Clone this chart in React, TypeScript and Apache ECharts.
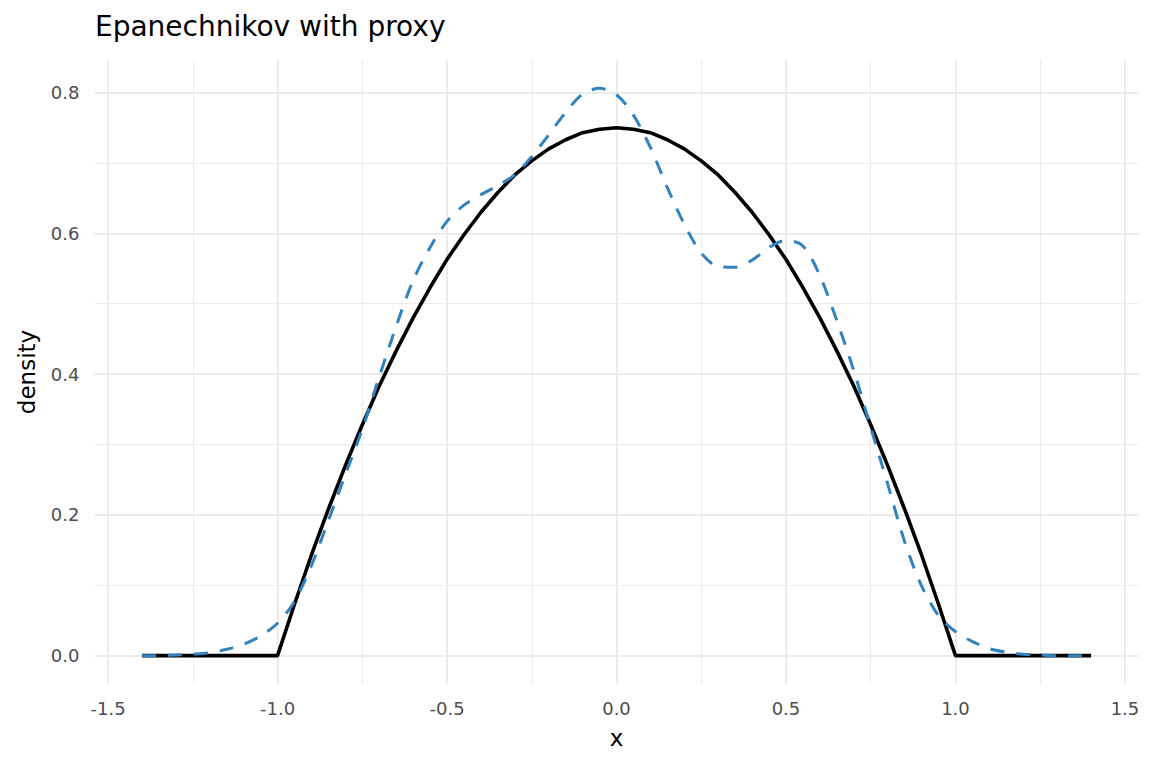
import React, { useEffect, useRef } from "react";
import * as echarts from "echarts";

const titleText = "Epanechnikov with proxy";
const xName = "x";
const yName = "density";

const xTicks = [-1.5, -1.0, -0.5, 0.0, 0.5, 1.0, 1.5];
const xMinor = [-1.25, -0.75, -0.25, 0.25, 0.75, 1.25];
const yTicks = [0.0, 0.2, 0.4, 0.6, 0.8];
const yMinor = [0.1, 0.3, 0.5, 0.7];

const xs = [
  -1.4, -1.35, -1.3, -1.25, -1.2, -1.15, -1.1, -1.05, -1.0, -0.95, -0.9, -0.85,
  -0.8, -0.75, -0.7, -0.65, -0.6, -0.55, -0.5, -0.45, -0.4, -0.35, -0.3, -0.25,
  -0.2, -0.15, -0.1, -0.05, 0.0, 0.05, 0.1, 0.15, 0.2, 0.25, 0.3, 0.35, 0.4,
  0.45, 0.5, 0.55, 0.6, 0.65, 0.7, 0.75, 0.8, 0.85, 0.9, 0.95, 1.0, 1.05, 1.1,
  1.15, 1.2, 1.25, 1.3, 1.35, 1.4,
];

const epanechnikov = [
  0, 0, 0, 0, 0, 0, 0, 0, 0,
  0.073, 0.143, 0.208, 0.27, 0.328, 0.383, 0.433, 0.48, 0.523, 0.563, 0.598,
  0.63, 0.658, 0.683, 0.703, 0.72, 0.733, 0.743, 0.748,
  0.75,
  0.748, 0.743, 0.733, 0.72, 0.703, 0.683, 0.658, 0.63, 0.598, 0.563, 0.523,
  0.48, 0.433, 0.383, 0.328, 0.27, 0.208, 0.143, 0.073,
  0, 0, 0, 0, 0, 0, 0, 0, 0,
];

const proxy = [
  0.0, 0.0, 0.001, 0.002, 0.004, 0.009, 0.016, 0.028, 0.046, 0.077, 0.128,
  0.192, 0.257, 0.322, 0.396, 0.468, 0.533, 0.58, 0.617, 0.64, 0.655, 0.668,
  0.683, 0.709, 0.74, 0.772, 0.798, 0.806, 0.797, 0.768, 0.722, 0.665, 0.613,
  0.572, 0.553, 0.552, 0.562, 0.58, 0.59, 0.582, 0.54, 0.476, 0.405, 0.324,
  0.244, 0.162, 0.099, 0.057, 0.034, 0.02, 0.01, 0.005, 0.002, 0.001, 0.0, 0.0,
  0.0,
];

const FONT = "DejaVu Sans";

export default function App() {
  const ref = useRef<HTMLDivElement>(null);

  useEffect(() => {
    if (!ref.current) return;
    const chart = echarts.init(ref.current, undefined, { renderer: "svg" });

    const gridLine = (w: number) => ({
      color: "#EBEBEB",
      width: w,
      type: "solid" as const,
    });

    const markData: any[] = [];
    xTicks.forEach((v) => markData.push({ xAxis: v, lineStyle: gridLine(2) }));
    xMinor.forEach((v) => markData.push({ xAxis: v, lineStyle: gridLine(1) }));
    yTicks.forEach((v) => markData.push({ yAxis: v, lineStyle: gridLine(2) }));
    yMinor.forEach((v) => markData.push({ yAxis: v, lineStyle: gridLine(1) }));

    chart.setOption({
      animation: false,
      backgroundColor: "#FFFFFF",
      title: {
        text: titleText,
        left: 95,
        top: 12,
        padding: 0,
        textStyle: {
          fontFamily: FONT,
          fontSize: 28,
          fontWeight: "normal",
          color: "#000000",
        },
      },
      grid: { left: 94.5, right: 13.5, top: 60, bottom: 84, containLabel: false },
      xAxis: {
        type: "value",
        min: -1.54,
        max: 1.54,
        axisLine: { show: false },
        axisTick: { show: false },
        splitLine: { show: false },
        axisLabel: {
          customValues: xTicks,
          formatter: (v: number) => v.toFixed(1),
          margin: 15,
          color: "#4D4D4D",
          fontFamily: FONT,
          fontSize: 18,
        },
        name: xName,
        nameLocation: "middle",
        nameGap: 42,
        nameTextStyle: { fontFamily: FONT, fontSize: 23, color: "#000000" },
      },
      yAxis: {
        type: "value",
        min: -0.0403,
        max: 0.8463,
        axisLine: { show: false },
        axisTick: { show: false },
        splitLine: { show: false },
        axisLabel: {
          customValues: yTicks,
          formatter: (v: number) => v.toFixed(1),
          margin: 15,
          color: "#4D4D4D",
          fontFamily: FONT,
          fontSize: 18,
        },
        name: yName,
        nameLocation: "middle",
        nameRotate: 90,
        nameGap: 56,
        nameTextStyle: { fontFamily: FONT, fontSize: 23, color: "#000000" },
      },
      series: [
        {
          type: "line",
          name: "grid",
          z: 0,
          zlevel: 0,
          silent: true,
          data: [[0, 0]],
          showSymbol: false,
          symbol: "none",
          lineStyle: { opacity: 0 },
          markLine: {
            silent: true,
            z: 0,
            symbol: ["none", "none"],
            label: { show: false },
            emphasis: { disabled: true },
            animation: false,
            data: markData,
          },
        },
        {
          type: "line",
          name: "Epanechnikov",
          z: 10,
          data: xs.map((x, i) => [x, epanechnikov[i]]),
          symbol: "none",
          showSymbol: false,
          lineStyle: { color: "#000000", width: 3.6 },
          silent: true,
        },
        {
          type: "line",
          name: "proxy",
          z: 11,
          data: xs.map((x, i) => [x, proxy[i]]),
          symbol: "none",
          showSymbol: false,
          smooth: 0.3,
          lineStyle: { color: "#3182BD", width: 3, type: [14, 12] },
          silent: true,
        },
      ],
    });

    return () => chart.dispose();
  }, []);

  return (
    <div
      ref={ref}
      style={{
        position: "fixed",
        left: 0,
        top: 0,
        width: 1152,
        height: 768,
        background: "#FFFFFF",
      }}
    />
  );
}
